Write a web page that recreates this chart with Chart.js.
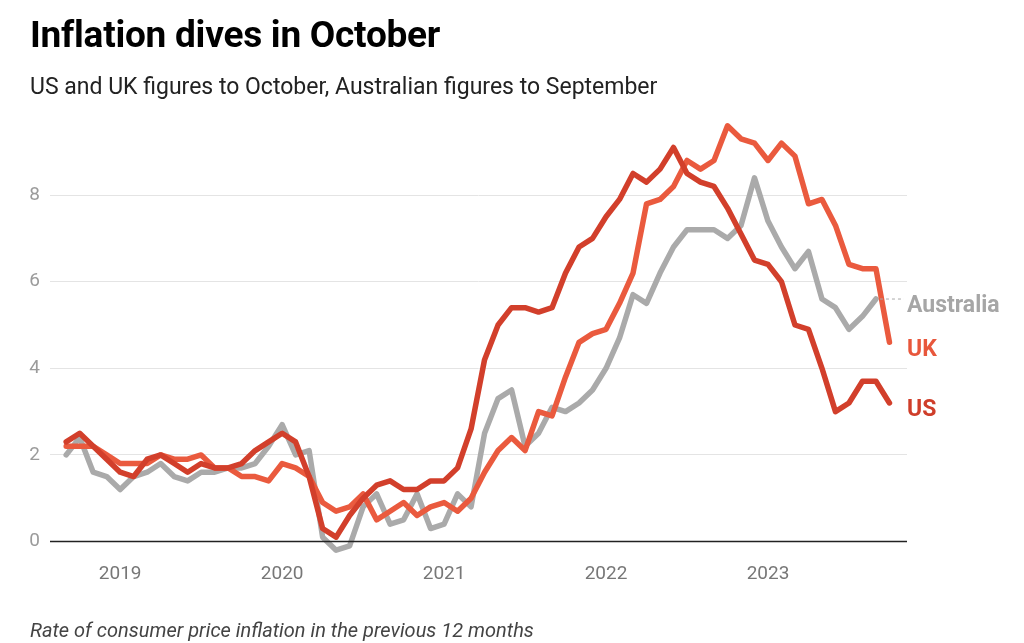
<!DOCTYPE html>
<html><head><meta charset="utf-8">
<script src="https://cdn.jsdelivr.net/npm/chart.js@4"></script>
<style>
html,body{margin:0;padding:0;background:#fff;width:1024px;height:643px;overflow:hidden;font-family:Roboto,"Noto Sans",sans-serif}
#c{position:absolute;left:0;top:0}
#title{position:absolute;left:30px;top:13px;font-size:37px;font-weight:700;color:#000;letter-spacing:-0.25px;white-space:nowrap;line-height:1.17}
#sub{position:absolute;left:30px;top:74px;font-size:23px;color:#222;white-space:nowrap;line-height:1.17}
#cap{position:absolute;left:30px;top:619px;font-size:20px;font-style:italic;color:#444;white-space:nowrap;line-height:1.17}
</style></head>
<body>
<canvas id="c" width="1024" height="643"></canvas>
<div id="title">Inflation dives in October</div>
<div id="sub">US and UK figures to October, Australian figures to September</div>
<div id="cap">Rate of consumer price inflation in the previous 12 months</div>
<script>
// Months indexed from Sep 2018 (index 0)
const usValues = [2.3, 2.5, 2.2, 1.9,
  1.6, 1.5, 1.9, 2.0, 1.8, 1.6, 1.8, 1.7, 1.7, 1.8, 2.1, 2.3,
  2.5, 2.3, 1.5, 0.3, 0.1, 0.6, 1.0, 1.3, 1.4, 1.2, 1.2, 1.4,
  1.4, 1.7, 2.6, 4.2, 5.0, 5.4, 5.4, 5.3, 5.4, 6.2, 6.8, 7.0,
  7.5, 7.9, 8.5, 8.3, 8.6, 9.1, 8.5, 8.3, 8.2, 7.7, 7.1, 6.5,
  6.4, 6.0, 5.0, 4.9, 4.0, 3.0, 3.2, 3.7, 3.7, 3.2];
const ukValues = [2.2, 2.2, 2.2, 2.0,
  1.8, 1.8, 1.8, 2.0, 1.9, 1.9, 2.0, 1.7, 1.7, 1.5, 1.5, 1.4,
  1.8, 1.7, 1.5, 0.9, 0.7, 0.8, 1.1, 0.5, 0.7, 0.9, 0.6, 0.8,
  0.9, 0.7, 1.0, 1.6, 2.1, 2.4, 2.1, 3.0, 2.9, 3.8, 4.6, 4.8,
  4.9, 5.5, 6.2, 7.8, 7.9, 8.2, 8.8, 8.6, 8.8, 9.6, 9.3, 9.2,
  8.8, 9.2, 8.9, 7.8, 7.9, 7.3, 6.4, 6.3, 6.3, 4.6];
const ausValues = [2.0, 2.4, 1.6, 1.5,
  1.2, 1.5, 1.6, 1.8, 1.5, 1.4, 1.6, 1.6, 1.7, 1.7, 1.8, 2.2,
  2.7, 2.0, 2.1, 0.1, -0.2, -0.1, 0.8, 1.1, 0.4, 0.5, 1.1, 0.3,
  0.4, 1.1, 0.8, 2.5, 3.3, 3.5, 2.2, 2.5, 3.1, 3.0, 3.2, 3.5,
  4.0, 4.7, 5.7, 5.5, 6.2, 6.8, 7.2, 7.2, 7.2, 7.0, 7.3, 8.4,
  7.4, 6.8, 6.3, 6.7, 5.6, 5.4, 4.9, 5.2, 5.6];
const seriesNames = ['US', 'UK', 'Australia'];
const yearLabels = ['2019', '2020', '2021', '2022', '2023'];
const yearTickIndex = [4, 16, 28, 40, 52];
const yTicks = [0, 2, 4, 6, 8];

const colors = {US: '#d23f2b', UK: '#ea5a3e', Australia: '#aaaaaa'};
const labelColors = {US: '#cf3e2a', UK: '#e8573c', Australia: '#a6a6a6'};

const toPts = arr => arr.map((v, i) => ({x: i, y: v}));

const endLabels = {
  id: 'endLabels',
  afterDatasetsDraw(chart) {
    const {ctx, chartArea} = chart;
    const xs = chart.scales.x, ys = chart.scales.y;
    const y0 = ys.getPixelForValue(0);
    ctx.save();
    ctx.strokeStyle = '#222';
    ctx.lineWidth = 1.6;
    ctx.beginPath();
    ctx.moveTo(chartArea.left, y0);
    ctx.lineTo(chartArea.right, y0);
    ctx.stroke();
    ctx.font = 'bold 23px Roboto, sans-serif';
    ctx.textBaseline = 'middle';
    ctx.textAlign = 'left';
    chart.data.datasets.forEach(ds => {
      const last = ds.data[ds.data.length - 1];
      const px = xs.getPixelForValue(last.x);
      const py = ys.getPixelForValue(last.y);
      if (ds.label === 'Australia') {
        ctx.save();
        ctx.strokeStyle = '#aaaaaa';
        ctx.lineWidth = 1;
        ctx.setLineDash([3, 3]);
        ctx.beginPath();
        ctx.moveTo(px + 4, py);
        ctx.lineTo(chartArea.right - 3, py);
        ctx.stroke();
        ctx.restore();
      }
      ctx.fillStyle = labelColors[ds.label];
      ctx.fillText(ds.label, chartArea.right, py + 7.5);
    });
    ctx.restore();
  }
};

const datasets = [
  {label: seriesNames[0], data: toPts(usValues), order: 0},
  {label: seriesNames[1], data: toPts(ukValues), order: 1},
  {label: seriesNames[2], data: toPts(ausValues), order: 2}
].map(d => Object.assign(d, {
  borderColor: colors[d.label], backgroundColor: colors[d.label],
  borderWidth: 5.5, pointRadius: 0, tension: 0, fill: false, clip: false,
  borderJoinStyle: 'round', borderCapStyle: 'round'
}));

new Chart(document.getElementById('c'), {
  type: 'line',
  data: {datasets},
  options: {
    responsive: false, animation: false,
    layout: {padding: {left: 0, right: 117, top: 108.5, bottom: 52}},
    plugins: {legend: {display: false}, tooltip: {enabled: false}},
    scales: {
      x: {
        type: 'linear', min: -1.2, max: 62.3,
        grid: {display: false, drawTicks: false},
        border: {display: false},
        afterBuildTicks(s) { s.ticks = yearTickIndex.map(v => ({value: v})); },
        afterFit(s) { s.height = 49.5; },
        ticks: {
          autoSkip: false, maxRotation: 0, padding: 21,
          color: '#777', font: {family: 'Roboto', size: 19},
          callback: v => yearLabels[yearTickIndex.indexOf(v)]
        }
      },
      y: {
        min: 0, max: 10,
        afterBuildTicks(s) { s.ticks = yTicks.map(v => ({value: v})); },
        afterFit(s) { s.width = 50; },
        border: {display: false},
        grid: {drawTicks: false, color: '#e4e4e4', lineWidth: 1},
        ticks: {padding: 10, color: '#9b9b9b', font: {family: 'Roboto', size: 19}}
      }
    }
  },
  plugins: [endLabels]
});
</script>
</body></html>
